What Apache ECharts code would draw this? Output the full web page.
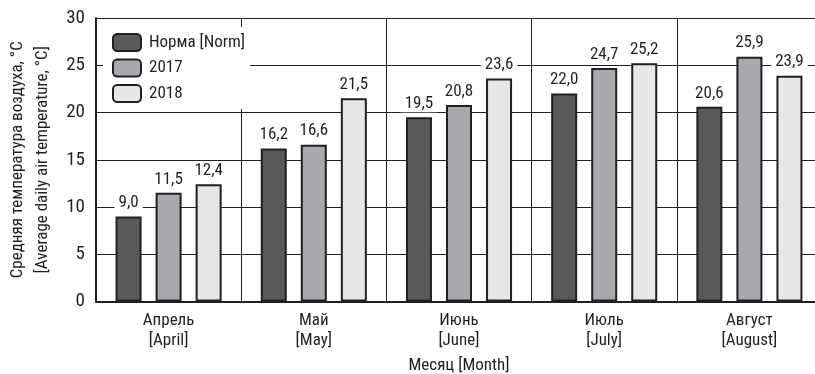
<!DOCTYPE html>
<html><head><meta charset="utf-8">
<script src="https://cdn.jsdelivr.net/npm/echarts@6/dist/echarts.min.js"></script>
<style>html,body{margin:0;padding:0;background:#fff}#c{width:815px;height:374px}</style>
</head><body><div id="c"></div>
<script>
const categories = ['Апрель\n[April]', 'Май\n[May]', 'Июнь\n[June]', 'Июль\n[July]', 'Август\n[August]'];
const seriesNames = ['Норма [Norm]', '2017', '2018'];
const normValues = [9.0, 16.2, 19.5, 22.0, 20.6];
const values2017 = [11.5, 16.6, 20.8, 24.7, 25.9];
const values2018 = [12.4, 21.5, 23.6, 25.2, 23.9];
const yTicks = [0, 5, 10, 15, 20, 25, 30];
const colors = ['#58595b', '#a7a9ac', '#e6e7e8'];

const FONT = '"Roboto Condensed","Liberation Sans Narrow",sans-serif';
const INK = '#231f20';
const chart = echarts.init(document.getElementById('c'));
const fmt = v => v.toFixed(1).replace('.', ',');
const mk = (name, data, color) => ({
  name, type: 'bar', data, barWidth: 26, barGap: '54%',
  itemStyle: { color, borderColor: INK, borderWidth: 2 },
  label: {
    show: true, position: 'top', distance: 5, fontFamily: FONT, fontSize: 17, color: INK,
    backgroundColor: '#fff', padding: [0, 4, 0, 4],
    formatter: p => fmt(p.value)
  },
  z: 3
});
chart.setOption({
  animation: false,
  textStyle: { fontFamily: FONT },
  grid: { left: 96, top: 18, width: 726, height: 283.5, outerBoundsMode: 'none', containLabel: false },
  legend: {
    data: seriesNames, orient: 'vertical', left: 103, top: 27,
    backgroundColor: '#fff', padding: [6, 5, 6, 9],
    itemWidth: 28, itemHeight: 17, itemGap: 6.5,
    itemStyle: { borderColor: INK, borderWidth: 2 },
    textStyle: { fontFamily: FONT, fontSize: 17, color: INK, padding: [0, 0, 0, 3] },
    z: 10
  },
  xAxis: {
    type: 'category', data: categories,
    name: 'Месяц [Month]', nameLocation: 'middle', nameGap: 56, nameMoveOverlap: false,
    nameTextStyle: { fontFamily: FONT, fontSize: 17, color: INK },
    axisLine: { lineStyle: { color: INK, width: 2 } },
    axisTick: { show: false },
    axisLabel: { fontFamily: FONT, fontSize: 17, color: INK, margin: 9, lineHeight: 20 },
    splitLine: { show: true, lineStyle: { color: INK, width: 1 } }
  },
  yAxis: {
    type: 'value', min: yTicks[0], max: yTicks[yTicks.length - 1], interval: 5,
    name: 'Средняя температура воздуха, °C\n[Average daily air temperature, °C]',
    nameLocation: 'middle', nameGap: 41, nameRotate: 90, nameMoveOverlap: false,
    nameTextStyle: { fontFamily: FONT, fontSize: 17, color: INK, lineHeight: 25 },
    axisLine: { show: true, lineStyle: { color: INK, width: 2 } },
    axisTick: { show: false },
    axisLabel: { fontFamily: FONT, fontSize: 19, color: INK, margin: 11 },
    splitLine: { show: true, lineStyle: { color: INK, width: 1 } }
  },
  series: [
    mk(seriesNames[0], normValues, colors[0]),
    mk(seriesNames[1], values2017, colors[1]),
    mk(seriesNames[2], values2018, colors[2])
  ]
});
</script></body></html>
